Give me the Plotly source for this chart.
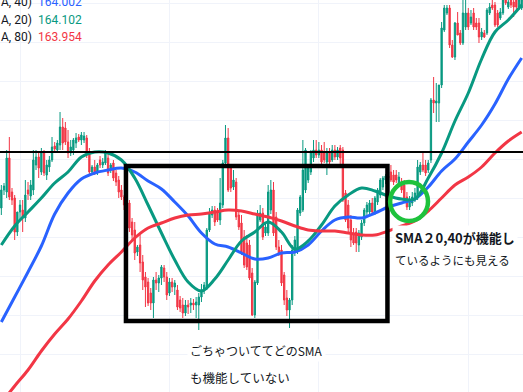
import plotly.graph_objects as go

# ---------------- data ----------------
candle_idx = list(range(196))

open_ = [
163.992, 164.010, 164.008, 164.042, 164.008, 164.002, 163.968, 163.988, 163.990, 163.982,
164.010, 164.004, 164.010, 164.035, 164.043, 164.028, 164.048, 164.025, 164.033, 164.040,
164.054, 164.050, 164.055, 164.073, 164.072, 164.058, 164.047, 164.050, 164.057, 164.063,
164.060, 164.060, 164.062, 164.048, 164.028, 164.033, 164.027, 164.040, 164.035, 164.037,
164.042, 164.030, 164.037, 164.027, 164.020, 164.010, 164.003, 163.995, 163.997, 163.978,
163.970, 163.948, 163.955, 163.938, 163.923, 163.918, 163.907, 163.897, 163.920, 163.917,
163.922, 163.932, 163.923, 163.907, 163.918, 163.913, 163.910, 163.900, 163.895, 163.887,
163.895, 163.895, 163.897, 163.895, 163.895, 163.903, 163.910, 163.913, 163.970, 163.985,
163.990, 163.988, 163.980, 163.995, 164.037, 164.062, 164.032, 164.013, 164.018, 163.985,
163.977, 163.963, 163.957, 163.955, 163.927, 163.885, 163.917, 163.980, 163.987, 163.967,
163.967, 163.990, 164.010, 163.983, 163.953, 163.950, 163.925, 163.902, 163.890, 163.900,
163.948, 163.950, 163.987, 163.990, 164.010, 164.020, 164.028, 164.042, 164.050, 164.045,
164.050, 164.047, 164.038, 164.048, 164.040, 164.050, 164.043, 164.052, 164.050, 164.007,
163.995, 163.980, 163.967, 163.968, 163.955, 163.963, 163.977, 163.988, 163.988, 163.997,
163.988, 163.998, 164.005, 164.013, 164.020, 164.024, 164.028, 164.025, 164.025, 164.017,
164.017, 164.015, 164.003, 163.993, 163.997, 164.000, 164.003, 164.028, 164.035, 164.035,
164.030, 164.040, 164.100, 164.097, 164.097, 164.115, 164.170, 164.187, 164.192, 164.155,
164.143, 164.177, 164.167, 164.157, 164.173, 164.187, 164.177, 164.187, 164.177, 164.177,
164.163, 164.167, 164.167, 164.187, 164.195, 164.195, 164.187, 164.182, 164.187, 164.200,
164.193, 164.200, 164.198, 164.200, 164.193, 164.192,
]

high = [
164.015, 164.017, 164.050, 164.063, 164.012, 164.005, 163.972, 164.000, 164.000, 164.020,
164.018, 164.020, 164.050, 164.050, 164.048, 164.052, 164.050, 164.040, 164.044, 164.063,
164.058, 164.060, 164.088, 164.082, 164.078, 164.070, 164.060, 164.062, 164.067, 164.066,
164.068, 164.068, 164.065, 164.052, 164.035, 164.040, 164.037, 164.044, 164.042, 164.050,
164.048, 164.037, 164.040, 164.030, 164.024, 164.015, 164.005, 164.000, 164.000, 163.982,
163.978, 163.955, 163.965, 163.945, 163.928, 163.922, 163.912, 163.923, 163.928, 163.925,
163.935, 163.935, 163.928, 163.922, 163.922, 163.920, 163.915, 163.904, 163.902, 163.900,
163.900, 163.902, 163.901, 163.903, 163.907, 163.916, 163.918, 163.972, 163.992, 163.994,
163.994, 163.992, 164.022, 164.040, 164.075, 164.072, 164.035, 164.030, 164.022, 163.990,
163.985, 163.970, 163.965, 163.960, 163.932, 163.920, 163.990, 163.995, 163.992, 163.978,
164.015, 164.020, 164.018, 163.988, 163.960, 163.955, 163.928, 163.910, 163.902, 163.955,
163.964, 163.992, 164.005, 164.060, 164.052, 164.035, 164.050, 164.060, 164.060, 164.058,
164.055, 164.058, 164.052, 164.052, 164.055, 164.055, 164.053, 164.055, 164.053, 164.010,
164.000, 163.985, 163.972, 163.972, 163.970, 163.980, 163.992, 163.998, 164.000, 164.002,
164.004, 164.012, 164.022, 164.024, 164.026, 164.030, 164.035, 164.030, 164.030, 164.028,
164.022, 164.020, 164.008, 164.004, 164.008, 164.012, 164.040, 164.038, 164.047, 164.040,
164.040, 164.102, 164.123, 164.117, 164.115, 164.178, 164.195, 164.195, 164.195, 164.160,
164.178, 164.188, 164.170, 164.202, 164.202, 164.192, 164.190, 164.192, 164.182, 164.182,
164.172, 164.170, 164.192, 164.197, 164.202, 164.198, 164.190, 164.192, 164.203, 164.203,
164.202, 164.203, 164.202, 164.203, 164.203, 164.203,
]

low = [
163.985, 164.005, 164.002, 164.000, 163.995, 163.960, 163.964, 163.980, 163.968, 163.978,
164.000, 164.000, 164.005, 164.030, 164.022, 164.025, 164.024, 164.020, 164.028, 164.038,
164.048, 164.048, 164.050, 164.050, 164.055, 164.042, 164.044, 164.045, 164.052, 164.058,
164.055, 164.057, 164.042, 164.025, 164.025, 164.025, 164.025, 164.032, 164.032, 164.035,
164.024, 164.027, 164.019, 164.014, 164.002, 164.000, 163.990, 163.988, 163.968, 163.960,
163.940, 163.944, 163.928, 163.910, 163.893, 163.894, 163.890, 163.882, 163.910, 163.908,
163.915, 163.918, 163.900, 163.904, 163.908, 163.905, 163.890, 163.888, 163.882, 163.884,
163.886, 163.887, 163.890, 163.882, 163.870, 163.898, 163.906, 163.910, 163.968, 163.982,
163.974, 163.978, 163.975, 163.992, 164.032, 164.008, 164.008, 164.010, 163.980, 163.970,
163.945, 163.932, 163.930, 163.920, 163.884, 163.882, 163.915, 163.978, 163.960, 163.964,
163.964, 163.986, 163.964, 163.950, 163.944, 163.914, 163.895, 163.884, 163.872, 163.895,
163.944, 163.946, 163.984, 163.988, 164.007, 164.017, 164.025, 164.038, 164.042, 164.042,
164.035, 164.037, 164.025, 164.032, 164.038, 164.040, 164.040, 164.035, 163.998, 163.978,
163.968, 163.953, 163.955, 163.948, 163.948, 163.960, 163.974, 163.985, 163.985, 163.986,
163.985, 163.995, 164.002, 164.010, 164.016, 164.018, 164.018, 164.015, 164.017, 164.014,
164.007, 163.998, 163.990, 163.990, 163.994, 163.998, 164.000, 164.025, 164.028, 164.024,
164.027, 164.037, 164.087, 164.078, 164.078, 164.112, 164.168, 164.185, 164.152, 164.142,
164.140, 164.165, 164.155, 164.155, 164.170, 164.170, 164.175, 164.170, 164.170, 164.157,
164.160, 164.162, 164.165, 164.185, 164.190, 164.173, 164.173, 164.180, 164.185, 164.195,
164.191, 164.192, 164.183, 164.190, 164.190, 164.190,
]

close = [
164.010, 164.014, 164.042, 164.003, 164.000, 163.968, 163.988, 163.995, 163.982, 164.005,
164.006, 164.015, 164.040, 164.043, 164.032, 164.048, 164.027, 164.035, 164.040, 164.053,
164.051, 164.057, 164.073, 164.057, 164.058, 164.047, 164.053, 164.060, 164.062, 164.060,
164.065, 164.064, 164.045, 164.028, 164.033, 164.028, 164.035, 164.035, 164.038, 164.048,
164.027, 164.035, 164.022, 164.018, 164.008, 164.003, 163.995, 163.992, 163.972, 163.965,
163.947, 163.953, 163.937, 163.920, 163.913, 163.897, 163.897, 163.920, 163.917, 163.922,
163.933, 163.923, 163.905, 163.918, 163.913, 163.917, 163.893, 163.892, 163.887, 163.895,
163.893, 163.897, 163.895, 163.898, 163.903, 163.910, 163.915, 163.970, 163.987, 163.990,
163.978, 163.980, 163.997, 164.037, 164.062, 164.010, 164.012, 164.020, 163.983, 163.973,
163.948, 163.935, 163.933, 163.922, 163.885, 163.918, 163.987, 163.987, 163.963, 163.973,
164.008, 164.010, 163.967, 163.953, 163.947, 163.917, 163.900, 163.890, 163.900, 163.950,
163.960, 163.990, 164.003, 164.030, 164.050, 164.032, 164.048, 164.050, 164.045, 164.050,
164.038, 164.040, 164.048, 164.038, 164.050, 164.043, 164.050, 164.042, 164.000, 163.980,
163.972, 163.960, 163.957, 163.957, 163.967, 163.977, 163.990, 163.995, 163.997, 163.988,
164.002, 164.010, 164.020, 164.022, 164.024, 164.022, 164.020, 164.018, 164.020, 164.023,
164.010, 164.000, 163.993, 164.000, 164.003, 164.007, 164.033, 164.035, 164.030, 164.027,
164.037, 164.100, 164.097, 164.099, 164.115, 164.172, 164.192, 164.192, 164.155, 164.143,
164.177, 164.165, 164.157, 164.187, 164.187, 164.173, 164.183, 164.173, 164.173, 164.163,
164.168, 164.163, 164.190, 164.193, 164.192, 164.175, 164.175, 164.188, 164.200, 164.197,
164.198, 164.195, 164.193, 164.193, 164.200, 164.200,
]

# moving averages read at every 5th candle
sma_idx = list(range(0, 196, 5))
sma20 = [
163.955, 163.974, 163.988, 164.002, 164.017, 164.028, 164.043, 164.048, 164.047, 164.040,
164.022, 163.995, 163.967, 163.940, 163.918, 163.909, 163.921, 163.940, 163.959, 163.968,
163.978, 163.968, 163.951, 163.959, 163.975, 163.994, 164.005, 164.012, 164.009, 164.004,
164.001, 164.001, 164.022, 164.047, 164.079, 164.107, 164.141, 164.168, 164.180, 164.195,
]
sma40 = [
163.878, 163.903, 163.928, 163.954, 163.986, 164.007, 164.021, 164.027, 164.030, 164.032,
164.028, 164.019, 164.011, 163.998, 163.984, 163.967, 163.956, 163.953, 163.947, 163.941,
163.942, 163.947, 163.948, 163.955, 163.969, 163.980, 163.983, 163.982, 163.987, 163.993,
163.997, 164.001, 164.013, 164.029, 164.041, 164.058, 164.075, 164.096, 164.121, 164.142,
]
sma80 = [
163.797, 163.814, 163.830, 163.849, 163.866, 163.881, 163.899, 163.919, 163.935, 163.948,
163.962, 163.972, 163.977, 163.982, 163.985, 163.986, 163.988, 163.990, 163.989, 163.986,
163.983, 163.979, 163.974, 163.970, 163.969, 163.969, 163.967, 163.965, 163.965, 163.969,
163.974, 163.979, 163.989, 164.002, 164.015, 164.023, 164.033, 164.047, 164.059, 164.068,
]

legend_labels = ["A, 40)", "A, 20)", "A, 80)"]
legend_values = ["164.002", "164.102", "163.954"]

resistance = 164.048
range_box = dict(x0=46.7, x1=144.7, y0=163.879, y1=164.034)
circle_box = dict(x0=145.7, x1=159.9, y0=163.979, y1=164.018)

# ---------------- styles ----------------
UP = "#089981"
DOWN = "#f23645"
BLUE = "#2962ff"
GRID = "#f0f3fa"
W, H = 523, 392

fig = go.Figure()
fig.add_trace(go.Candlestick(
    x=candle_idx, open=open_, high=high, low=low, close=close,
    increasing=dict(line=dict(color=UP, width=1), fillcolor=UP),
    decreasing=dict(line=dict(color=DOWN, width=1), fillcolor=DOWN),
    whiskerwidth=0, showlegend=False, hoverinfo="skip",
))
for vals, col in [(sma40, BLUE), (sma20, UP), (sma80, DOWN)]:
    fig.add_trace(go.Scatter(
        x=sma_idx, y=vals, mode="lines",
        line=dict(color=col, width=3, shape="spline", smoothing=1.0),
        showlegend=False, hoverinfo="skip",
    ))

shapes = [
    dict(type="line", xref="paper", x0=0, x1=1, yref="y", y0=resistance, y1=resistance,
         line=dict(color="black", width=2), layer="above"),
    dict(type="rect", xref="x", yref="y", **range_box,
         line=dict(color="black", width=4.5), fillcolor="rgba(0,0,0,0)", layer="above"),
    dict(type="circle", xref="x", yref="y", **circle_box,
         line=dict(color="#1ec23c", width=4.5), fillcolor="rgba(0,0,0,0)", layer="above"),
]

def px(x):
    return x / W

def py(y):
    return 1 - y / H

annotations = []
rows_y = [2.5, 19.5, 36.5]
val_cols = [BLUE, UP, DOWN]
for lab, val, yy, col in zip(legend_labels, legend_values, rows_y, val_cols):
    annotations.append(dict(xref="paper", yref="paper", x=px(-1), y=py(yy), xanchor="left",
                            yanchor="middle", text=lab, showarrow=False,
                            font=dict(family="Roboto", size=12, color="#131722")))
    annotations.append(dict(xref="paper", yref="paper", x=px(36), y=py(yy), xanchor="left",
                            yanchor="middle", text=val, showarrow=False,
                            font=dict(family="Roboto", size=12, color=col)))

jp = "Noto Sans CJK JP"
texts = [
    ("<b>SMA２0,40が機能し</b>", 392, 237, 13),
    ("ているようにも見える", 392, 260, 11.5),
    ("ごちゃついててどのSMA", 187, 350, 12),
    ("も機能していない", 187, 377, 12.5),
]
for t, xx, yy, fs in texts:
    annotations.append(dict(xref="paper", yref="paper", x=px(xx), y=py(yy), xanchor="left",
                            yanchor="middle", text=t, showarrow=False, bgcolor="white",
                            borderpad=2, font=dict(family=jp, size=fs, color="#131722")))

fig.update_layout(
    width=W, height=H, margin=dict(l=0, r=0, t=0, b=0),
    paper_bgcolor="white", plot_bgcolor="white",
    shapes=shapes, annotations=annotations, showlegend=False,
    xaxis=dict(range=[-0.5, 195.5], showticklabels=False, zeroline=False, showline=False,
               showgrid=True, gridcolor=GRID, gridwidth=1, tick0=7, dtick=56,
               rangeslider=dict(visible=False), fixedrange=True),
    yaxis=dict(range=[163.808, 164.200], showticklabels=False, zeroline=False, showline=False,
               showgrid=True, gridcolor=GRID, gridwidth=1, tick0=164.002, dtick=0.039,
               fixedrange=True),
)

fig.write_html(
    "out.html",
    config={"displayModeBar": False},
    post_script="document.body.style.margin='0';document.body.style.overflow='hidden';",
)
